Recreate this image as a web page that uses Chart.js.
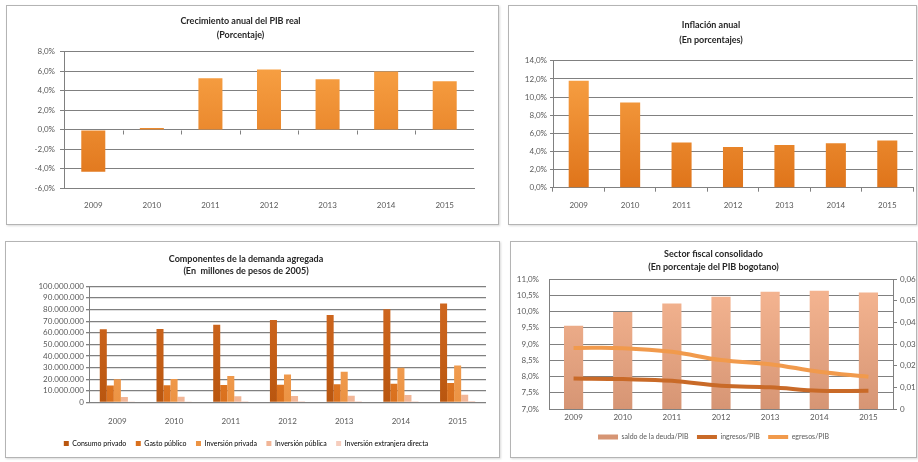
<!DOCTYPE html>
<html lang="es">
<head>
<meta charset="utf-8">
<title>Indicadores económicos de Bogotá 2009-2015</title>
<script src="https://cdn.jsdelivr.net/npm/chart.js@4.4.1/dist/chart.umd.min.js"></script>
<style>
    html, body { margin: 0; padding: 0; background: #ffffff; }
    body { width: 918px; height: 462px; position: relative; overflow: hidden; font-family: Lato, sans-serif; }
    .panel { position: absolute; box-sizing: border-box; border: 1px solid #b4b4b4; background: #fff; box-shadow: 1px 1px 2px rgba(0, 0, 0, 0.15); }
    .panel canvas { display: block; }
    #p1 { left: 6px; top: 5px; width: 493px; height: 220px; }
    #p2 { left: 508px; top: 5px; width: 409px; height: 220px; }
    #p3 { left: 5px; top: 241px; width: 495px; height: 217px; }
    #p4 { left: 510px; top: 241px; width: 407px; height: 217px; }
</style>
</head>
<body>
<div class="panel" id="p1"><canvas id="pibChart" width="491" height="218"></canvas></div>
<div class="panel" id="p2"><canvas id="inflacionChart" width="407" height="218"></canvas></div>
<div class="panel" id="p3"><canvas id="demandaChart" width="493" height="215"></canvas></div>
<div class="panel" id="p4"><canvas id="fiscalChart" width="405" height="215"></canvas></div>

<script>
// ---- datos ----
const anios = ['2009', '2010', '2011', '2012', '2013', '2014', '2015'];

// Crecimiento anual del PIB real (%)
const pibCrecimiento = [-4.3, 0.2, 5.3, 6.2, 5.2, 6.0, 5.0];
const pibTicks = ['-6,0%', '-4,0%', '-2,0%', '0,0%', '2,0%', '4,0%', '6,0%', '8,0%'];

// Inflación anual (%)
const inflacion = [11.8, 9.4, 5.0, 4.5, 4.7, 4.9, 5.2];
const inflacionTicks = ['0,0%', '2,0%', '4,0%', '6,0%', '8,0%', '10,0%', '12,0%', '14,0%'];

// Componentes de la demanda agregada (millones de pesos de 2005)
const consumoPrivado = [63000000, 63300000, 67000000, 71000000, 75300000, 80300000, 85200000];
const gastoPublico = [14700000, 14800000, 15000000, 15300000, 15600000, 16200000, 16800000];
const inversionPrivada = [20000000, 20200000, 22700000, 24100000, 26400000, 29800000, 31800000];
const inversionPublica = [4800000, 4900000, 5300000, 5500000, 5900000, 6400000, 6600000];
const inversionExtranjera = [900000, 900000, 1000000, 1000000, 1100000, 1100000, 1200000];
const demandaTicks = ['0', '10.000.000', '20.000.000', '30.000.000', '40.000.000', '50.000.000',
    '60.000.000', '70.000.000', '80.000.000', '90.000.000', '100.000.000'];
const demandaSeries = ['Consumo privado', 'Gasto público', 'Inversión privada', 'Inversión pública', 'Inversión extranjera directa'];

// Sector fiscal consolidado (% del PIB bogotano)
const saldoDeuda = [9.56, 9.99, 10.25, 10.46, 10.61, 10.64, 10.59];
const ingresosPib = [0.0141, 0.0138, 0.0130, 0.0107, 0.0100, 0.0084, 0.0084];
const egresosPib = [0.0282, 0.0281, 0.0264, 0.0226, 0.0207, 0.0172, 0.0149];
const fiscalTicksIzq = ['7,0%', '7,5%', '8,0%', '8,5%', '9,0%', '9,5%', '10,0%', '10,5%', '11,0%'];
const fiscalTicksDer = ['0', '0,01', '0,02', '0,03', '0,04', '0,05', '0,06'];
const fiscalSeries = ['saldo de la deuda/PIB', 'ingresos/PIB', 'egresos/PIB'];

// ---- estilos comunes ----
Chart.defaults.font.family = 'Lato, "Liberation Sans", sans-serif';
Chart.defaults.color = '#595959';
Chart.defaults.animation = false;

const colorGrid = '#808080';
const fuenteTick = { size: 8 };

// degradado vertical sobre el área del gráfico (como el relleno de Excel)
function degradado(arriba, abajo) {
    return function (context) {
        const area = context.chart.chartArea;
        if (!area) return abajo;
        const g = context.chart.ctx.createLinearGradient(0, area.top, 0, area.bottom);
        g.addColorStop(0, arriba);
        g.addColorStop(1, abajo);
        return g;
    };
}

function anchoFijo(px) {
    return function (scale) { scale.width = px; };
}

// marcas cortas en los límites de categoría sobre la línea del cero
const marcasCero = {
    id: 'marcasCero',
    afterDatasetsDraw(chart) {
        const x = chart.scales.x, y = chart.scales.y;
        const y0 = Math.round(y.getPixelForValue(0)) + 0.5;
        const ctx = chart.ctx;
        ctx.save();
        ctx.strokeStyle = colorGrid;
        ctx.lineWidth = 1;
        ctx.beginPath();
        for (let i = 1; i < anios.length; i++) {
            const px = Math.round(x.getPixelForValue(i - 0.5)) + 0.5;
            ctx.moveTo(px, y0);
            ctx.lineTo(px, y0 + 4);
        }
        ctx.stroke();
        ctx.restore();
    }
};

document.addEventListener('DOMContentLoaded', function () {

    // ==========================================
    // 1. Crecimiento anual del PIB real
    // ==========================================
    new Chart(document.getElementById('pibChart'), {
        type: 'bar',
        data: {
            labels: anios,
            datasets: [{
                data: pibCrecimiento,
                backgroundColor: degradado('#faa548', '#df741a'),
                categoryPercentage: 1,
                barPercentage: 0.41
            }]
        },
        plugins: [marcasCero],
        options: {
            responsive: false,
            layout: { padding: { left: 0, right: 24, top: 0, bottom: 2 } },
            plugins: {
                legend: { display: false },
                tooltip: { enabled: false },
                title: {
                    display: true,
                    text: ['Crecimiento anual del PIB real', '(Porcentaje)'],
                    color: '#262626',
                    font: { size: 9, weight: 'bold', lineHeight: 1.55 },
                    padding: { top: 8, bottom: 10 }
                }
            },
            scales: {
                x: {
                    grid: { display: false, drawTicks: false },
                    border: { display: true, color: colorGrid },
                    ticks: { font: fuenteTick, padding: 12, maxRotation: 0 }
                },
                y: {
                    min: -6, max: 8,
                    afterFit: anchoFijo(57),
                    grid: { color: colorGrid, tickLength: 4 },
                    border: { display: true, color: colorGrid },
                    ticks: {
                        stepSize: 2, font: fuenteTick, padding: 5, autoSkip: false,
                        callback: function (value, index) { return pibTicks[index]; }
                    }
                }
            }
        }
    });

    // ==========================================
    // 2. Inflación anual
    // ==========================================
    new Chart(document.getElementById('inflacionChart'), {
        type: 'bar',
        data: {
            labels: anios,
            datasets: [{
                data: inflacion,
                backgroundColor: degradado('#faa548', '#df741a'),
                categoryPercentage: 1,
                barPercentage: 0.39
            }]
        },
        options: {
            responsive: false,
            layout: { padding: { left: 0, right: 3, top: 0, bottom: 4.7 } },
            plugins: {
                legend: { display: false },
                tooltip: { enabled: false },
                title: {
                    display: true,
                    text: ['Inflación anual', '(En porcentajes)'],
                    color: '#262626',
                    font: { size: 9, weight: 'bold', lineHeight: 1.6 },
                    padding: { top: 12, bottom: 14 }
                }
            },
            scales: {
                x: {
                    grid: { display: true, drawOnChartArea: false, color: colorGrid, tickLength: 4 },
                    border: { display: true, color: colorGrid },
                    ticks: { font: fuenteTick, padding: 9, maxRotation: 0 }
                },
                y: {
                    min: 0, max: 14,
                    afterFit: anchoFijo(44),
                    grid: { color: colorGrid, tickLength: 3 },
                    border: { display: true, color: colorGrid },
                    ticks: {
                        stepSize: 2, font: fuenteTick, padding: 3, autoSkip: false,
                        callback: function (value, index) { return inflacionTicks[index]; }
                    }
                }
            }
        }
    });

    // ==========================================
    // 3. Componentes de la demanda agregada
    // ==========================================
    const coloresDemanda = [
        ['#d36a22', '#b9560f'],
        ['#f08a34', '#d9701d'],
        ['#f8ad68', '#ec9343'],
        ['#f9c8ad', '#f1b596'],
        ['#fbdccf', '#f6cdbd']
    ];
    const valoresDemanda = [consumoPrivado, gastoPublico, inversionPrivada, inversionPublica, inversionExtranjera];

    new Chart(document.getElementById('demandaChart'), {
        type: 'bar',
        data: {
            labels: anios,
            datasets: demandaSeries.map(function (nombre, i) {
                return {
                    label: nombre,
                    data: valoresDemanda[i],
                    backgroundColor: degradado(coloresDemanda[i][0], coloresDemanda[i][1]),
                    categoryPercentage: 0.62,
                    barPercentage: 1
                };
            })
        },
        options: {
            responsive: false,
            layout: { padding: { left: 0, right: 13, top: 0, bottom: 0 } },
            plugins: {
                tooltip: { enabled: false },
                title: {
                    display: true,
                    text: ['Componentes de la demanda agregada', '(En  millones de pesos de 2005)'],
                    color: '#262626',
                    font: { size: 9, weight: 'bold', lineHeight: 1.35 },
                    padding: { top: 11, bottom: 9 }
                },
                legend: {
                    position: 'bottom',
                    labels: {
                        boxWidth: 5, boxHeight: 5, padding: 9.5,
                        font: { size: 7 },
                        generateLabels: function (chart) {
                            return demandaSeries.map(function (nombre, i) {
                                return {
                                    text: nombre,
                                    fillStyle: coloresDemanda[i][1],
                                    strokeStyle: coloresDemanda[i][1],
                                    lineWidth: 0,
                                    datasetIndex: i
                                };
                            });
                        }
                    }
                }
            },
            scales: {
                x: {
                    grid: { display: false, drawTicks: true, tickLength: 10 },
                    border: { display: false },
                    ticks: { font: fuenteTick, padding: 4.2, maxRotation: 0 }
                },
                y: {
                    min: 0, max: 100000000,
                    afterFit: anchoFijo(83),
                    grid: { color: colorGrid, tickLength: 3, lineWidth: 1.3 },
                    border: { display: true, color: colorGrid },
                    ticks: {
                        stepSize: 10000000, font: fuenteTick, padding: 2, autoSkip: false,
                        callback: function (value, index) { return demandaTicks[index]; }
                    }
                }
            }
        }
    });

    // ==========================================
    // 4. Sector fiscal consolidado
    // ==========================================
    const colorIngresos = '#c96a28';
    const colorEgresos = '#f19a4c';

    new Chart(document.getElementById('fiscalChart'), {
        type: 'bar',
        data: {
            labels: anios,
            datasets: [
                {
                    label: fiscalSeries[0],
                    data: saldoDeuda,
                    yAxisID: 'y',
                    order: 3,
                    backgroundColor: degradado('#f7b793', '#d69574'),
                    categoryPercentage: 1,
                    barPercentage: 0.39,
                    pointStyle: 'rect'
                },
                {
                    type: 'line',
                    label: fiscalSeries[1],
                    data: ingresosPib,
                    yAxisID: 'y2',
                    order: 1,
                    borderColor: colorIngresos,
                    backgroundColor: colorIngresos,
                    borderWidth: 4,
                    tension: 0.4,
                    pointRadius: 0,
                    pointStyle: 'line'
                },
                {
                    type: 'line',
                    label: fiscalSeries[2],
                    data: egresosPib,
                    yAxisID: 'y2',
                    order: 2,
                    borderColor: colorEgresos,
                    backgroundColor: colorEgresos,
                    borderWidth: 4,
                    tension: 0.4,
                    pointRadius: 0,
                    pointStyle: 'line'
                }
            ]
        },
        options: {
            responsive: false,
            layout: { padding: { left: 0, right: 0, top: 0, bottom: 6.5 } },
            plugins: {
                tooltip: { enabled: false },
                title: {
                    display: true,
                    text: ['Sector fiscal consolidado', '(En porcentaje del PIB bogotano)'],
                    color: '#262626',
                    font: { size: 9, weight: 'bold', lineHeight: 1.45 },
                    padding: { top: 6, bottom: 5 }
                },
                legend: {
                    position: 'bottom',
                    labels: {
                        usePointStyle: true,
                        pointStyleWidth: 20,
                        boxHeight: 5,
                        padding: 8.5,
                        font: { size: 7 },
                        sort: function (a, b) { return a.datasetIndex - b.datasetIndex; }
                    }
                }
            },
            scales: {
                x: {
                    grid: { display: false, drawTicks: false },
                    border: { display: false },
                    ticks: { font: fuenteTick, padding: 3.2, maxRotation: 0 }
                },
                y: {
                    position: 'left',
                    min: 7, max: 11,
                    afterFit: anchoFijo(38),
                    grid: { color: colorGrid, drawTicks: false },
                    border: { display: true, color: colorGrid },
                    ticks: {
                        stepSize: 0.5, font: fuenteTick, padding: 10, autoSkip: false,
                        callback: function (value, index) { return fiscalTicksIzq[index]; }
                    }
                },
                y2: {
                    position: 'right',
                    min: 0, max: 0.06,
                    afterFit: anchoFijo(23),
                    grid: { drawOnChartArea: false, color: colorGrid, tickLength: 4 },
                    border: { display: true, color: colorGrid },
                    ticks: {
                        stepSize: 0.01, font: fuenteTick, padding: 3, autoSkip: false,
                        callback: function (value, index) { return fiscalTicksDer[index]; }
                    }
                }
            }
        }
    });
});
</script>
</body>
</html>
